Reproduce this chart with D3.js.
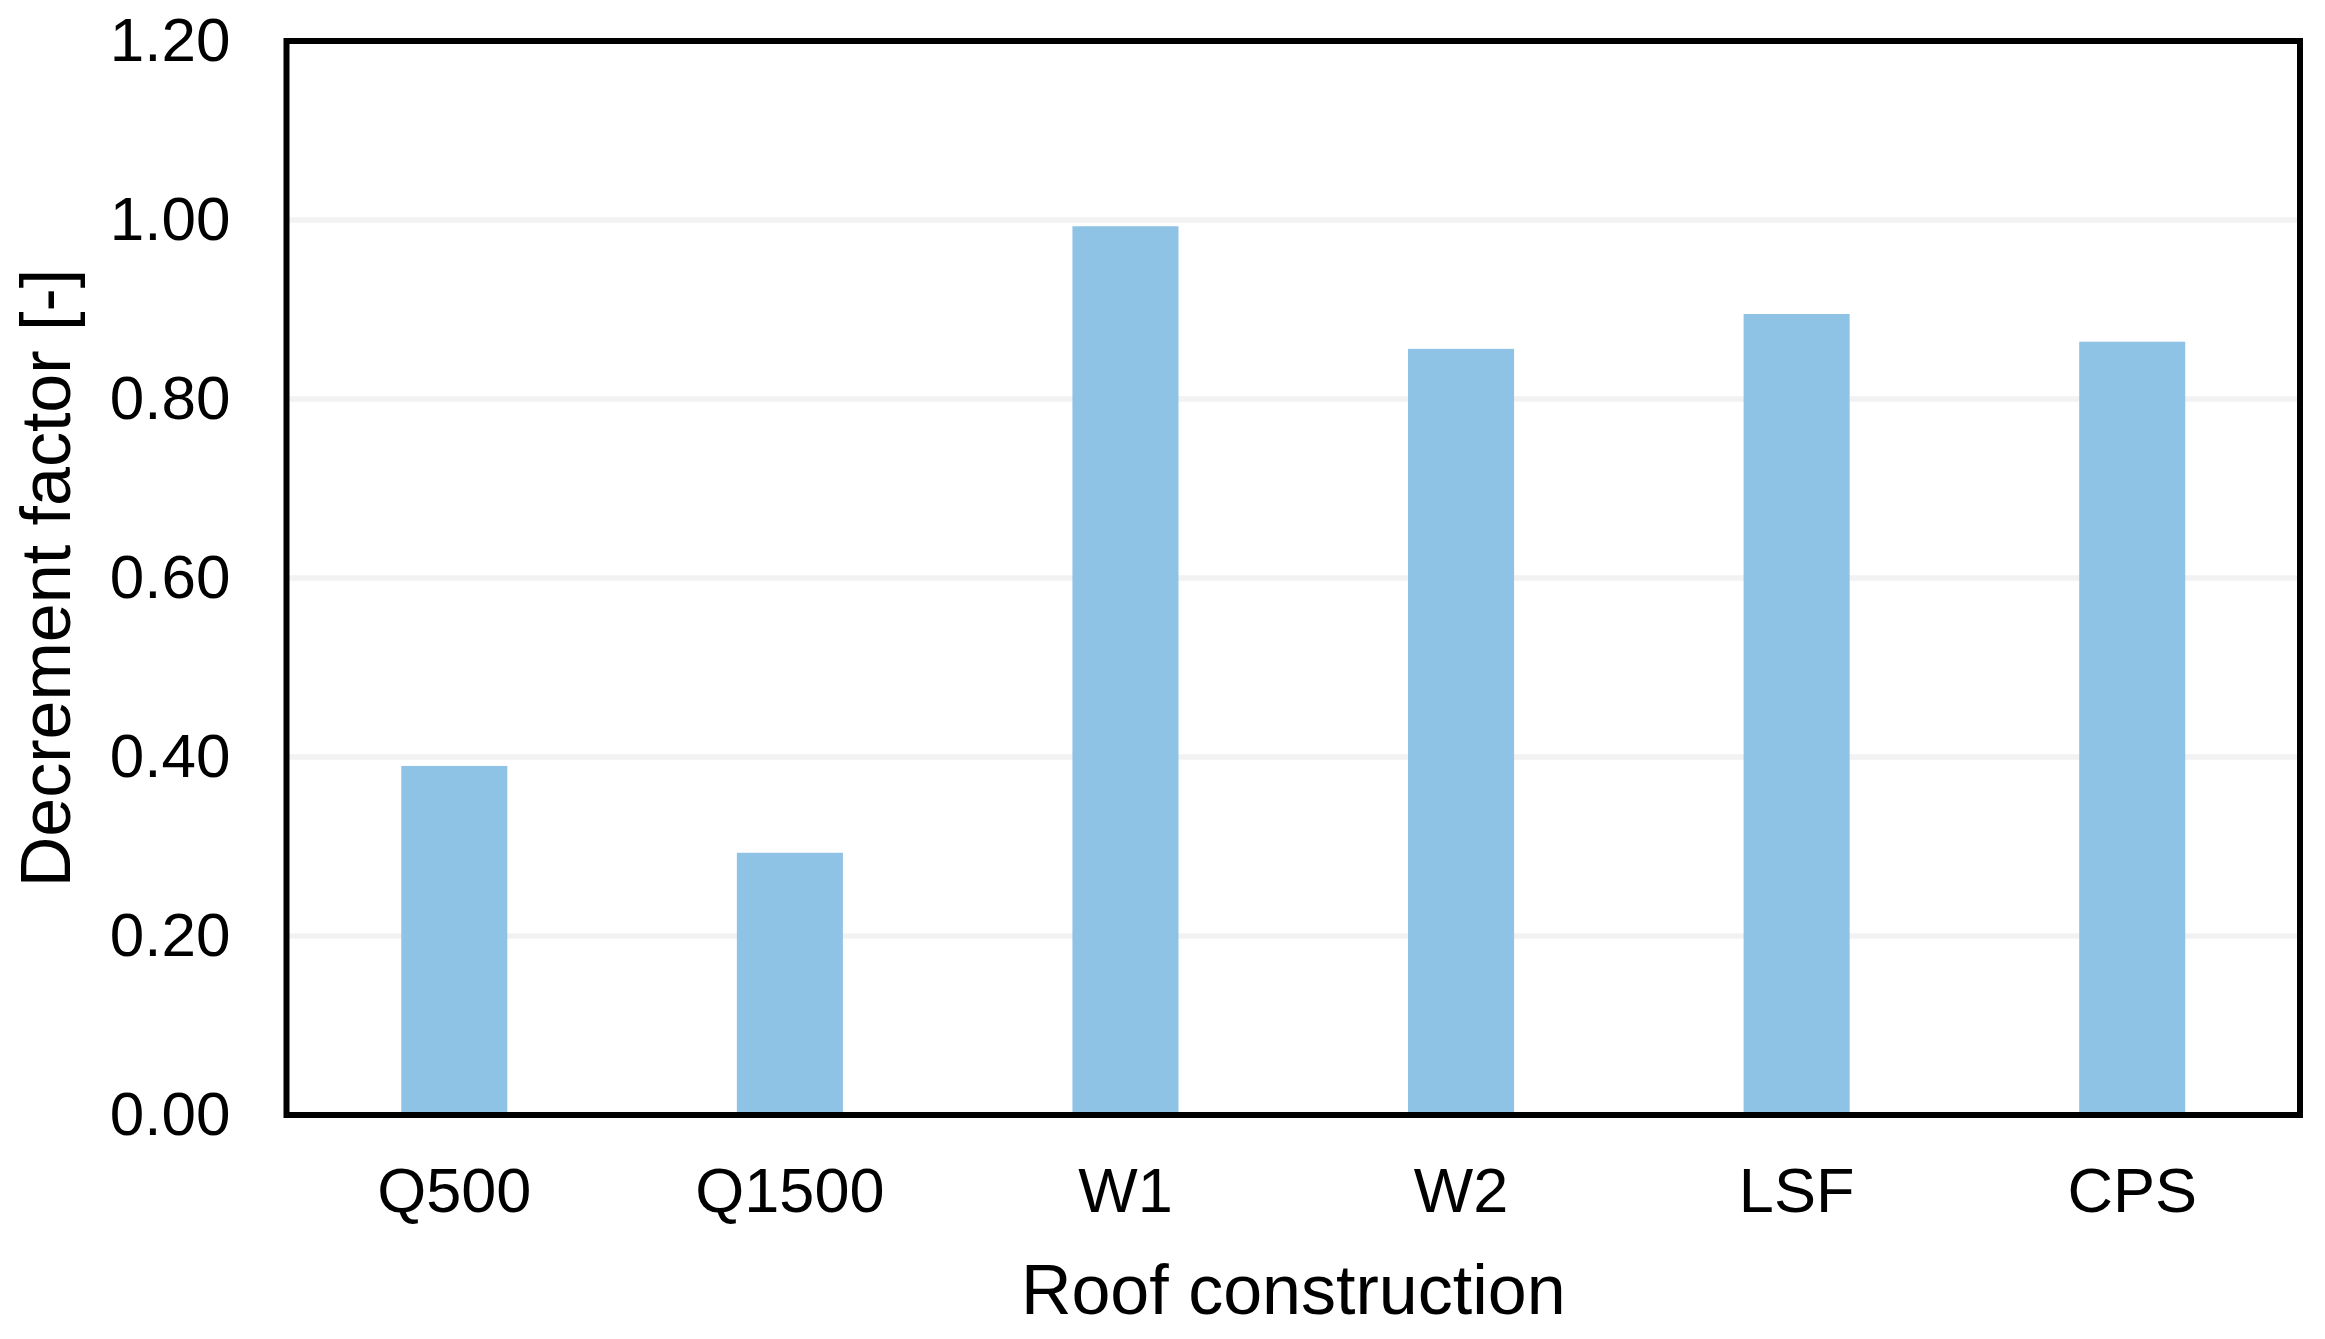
<!DOCTYPE html>
<html lang='en'>
<head>
<meta http-equiv='Content-Type' content='text/html;charset=utf-8'/>
<title>Decrement factor by roof construction</title>
<script src='https://d3js.org/d3.v7.min.js'></script>
<style>
  html, body { margin: 0; padding: 0; background: #ffffff; }
  svg { display: block; }
  text { font-family: Arial, 'Liberation Sans', sans-serif; fill: #000000; }
</style>
</head>
<body>
<script>
'use strict'
// chart data
const categories = ['Q500', 'Q1500', 'W1', 'W2', 'LSF', 'CPS']
const decrement = [0.39, 0.293, 0.993, 0.856, 0.895, 0.864]
const yTicks = [0, 0.2, 0.4, 0.6, 0.8, 1.0, 1.2]
const xTitle = 'Roof construction'
const yTitle = 'Decrement factor [-]'

const W = 2325
const H = 1339
const margin = {top: 41, right: 25, bottom: 224, left: 286.5}
const width = W - margin.left - margin.right
const height = H - margin.top - margin.bottom

const svg = d3.select('body').append('svg')
  .attr('width', W)
  .attr('height', H)

svg.append('rect')
  .attr('width', '100%')
  .attr('height', '100%')
  .attr('fill', '#ffffff')

const g = svg.append('g')
  .attr('transform', 'translate(' + margin.left + ',' + margin.top + ')')

const x = d3.scaleBand()
  .domain(categories)
  .range([0, width])
  .paddingInner(0.684)
  .paddingOuter(0.342)

const y = d3.scaleLinear()
  .domain([0, 1.2])
  .range([height, 0])

// gridlines
g.append('g')
  .selectAll('line')
  .data(yTicks.filter(function(d) { return d > 0 && d < 1.2 }))
  .join('line')
  .attr('x1', 0)
  .attr('x2', width)
  .attr('y1', function(d) { return y(d) })
  .attr('y2', function(d) { return y(d) })
  .attr('stroke', '#f2f2f2')
  .attr('stroke-width', 5.5)

// bars
g.append('g')
  .selectAll('rect')
  .data(categories)
  .join('rect')
  .attr('x', function(d) { return x(d) })
  .attr('width', x.bandwidth())
  .attr('y', function(d, i) { return y(decrement[i]) })
  .attr('height', function(d, i) { return height - y(decrement[i]) })
  .attr('fill', '#8ec3e6')

// axes
const yAxis = g.append('g')
  .call(d3.axisLeft(y).tickValues(yTicks).tickFormat(d3.format('.2f')).tickSize(0).tickPadding(56))
yAxis.select('.domain').remove()
yAxis.selectAll('text').attr('font-size', 62).style('font-family', null)

const xAxis = g.append('g')
  .attr('transform', 'translate(0,' + height + ')')
  .call(d3.axisBottom(x).tickSize(0).tickPadding(52))
xAxis.select('.domain').remove()
xAxis.selectAll('text').attr('font-size', 63).style('font-family', null)
svg.selectAll('.tick text').attr('font-family', null)
svg.selectAll('.tick').attr('font-family', null)
svg.selectAll('g').attr('font-family', null)

// plot frame
g.append('rect')
  .attr('x', 0)
  .attr('y', 0)
  .attr('width', width)
  .attr('height', height)
  .attr('fill', 'none')
  .attr('stroke', '#000000')
  .attr('stroke-width', 6)

// axis titles
svg.append('text')
  .attr('x', margin.left + width / 2)
  .attr('y', 1314)
  .attr('text-anchor', 'middle')
  .attr('font-size', 70)
  .text(xTitle)

svg.append('text')
  .attr('transform', 'translate(70,' + (margin.top + height / 2) + ') rotate(-90)')
  .attr('text-anchor', 'middle')
  .attr('font-size', 70)
  .text(yTitle)
</script>
</body>
</html>
